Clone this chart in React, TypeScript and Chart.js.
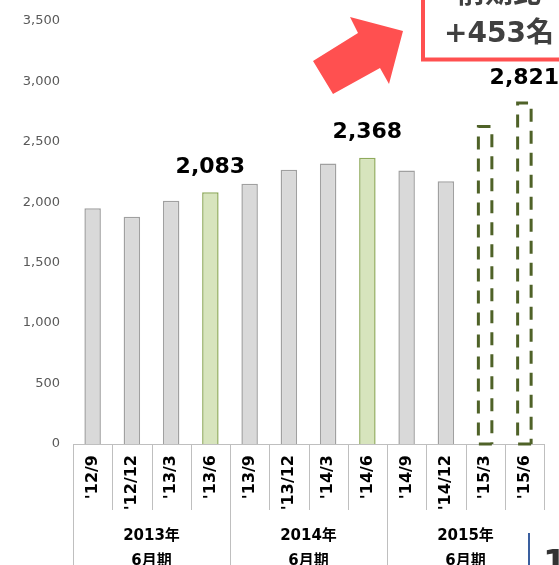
import React, { useEffect, useRef } from "react";
import { Chart, registerables } from "chart.js";

Chart.register(...registerables);

const categories = ["'12/9", "'12/12", "'13/3", "'13/6", "'13/9", "'13/12", "'14/3", "'14/6", "'14/9", "'14/12", "'15/3", "'15/6"];
const values = [1950, 1880, 2012, 2083, 2152, 2268, 2320, 2368, 2262, 2172, 2625, 2821];
const highlightIdx = [3, 7];
const forecastIdx = [10, 11];
const labelIdx = [3, 7, 11];
const yTicks = [0, 500, 1000, 1500, 2000, 2500, 3000, 3500];
const groupYears = ["2013年", "2014年", "2015年"];
const groupSub = "6月期";
const groupSize = 4;
const calloutTitle = "前期比";
const calloutValue = "+453名";

const FONT = "'DejaVu Sans', 'Noto Sans CJK JP', sans-serif";
const RED = "#FF5050";

const overlay = {
  id: "overlay",
  afterDatasetsDraw(chart: any) {
    const ctx = chart.ctx;
    const meta = chart.getDatasetMeta(0);
    ctx.save();
    forecastIdx.forEach((i) => {
      const el = meta.data[i];
      const p = el.getProps(["x", "y", "base", "width"], true);
      const l = p.x - p.width / 2 + 1.5;
      const r = p.x + p.width / 2 - 1.5;
      ctx.beginPath();
      ctx.setLineDash([13, 9]);
      ctx.lineDashOffset = 0;
      ctx.strokeStyle = "#4F6228";
      ctx.lineWidth = 3;
      ctx.moveTo(r, p.base);
      ctx.lineTo(l, p.base);
      ctx.lineTo(l, p.y);
      ctx.lineTo(r, p.y);
      ctx.lineTo(r, p.base);
      ctx.stroke();
    });
    ctx.restore();
  },
  afterDraw(chart: any) {
    const ctx = chart.ctx;
    const xs = chart.scales.x;
    const area = chart.chartArea;
    const meta = chart.getDatasetMeta(0);
    ctx.save();
    ctx.strokeStyle = "#BFBFBF";
    ctx.lineWidth = 1;
    for (let k = 0; k <= categories.length; k++) {
      const px = Math.round(xs.getPixelForValue(k - 0.5)) + 0.5;
      const long = k % groupSize === 0 && k < categories.length;
      ctx.beginPath();
      ctx.moveTo(px, area.bottom);
      ctx.lineTo(px, long ? chart.height : area.bottom + 66);
      ctx.stroke();
    }
    ctx.fillStyle = "#000";
    ctx.font = `bold 15px ${FONT}`;
    ctx.textAlign = "center";
    ctx.textBaseline = "middle";
    groupYears.forEach((g, j) => {
      const a = xs.getPixelForValue(j * groupSize - 0.5);
      const b = xs.getPixelForValue((j + 1) * groupSize - 0.5);
      const cx = (a + b) / 2;
      ctx.fillText(g, cx, area.bottom + 92);
      ctx.fillText(groupSub, cx, area.bottom + 117);
    });
    ctx.font = `bold 22px ${FONT}`;
    labelIdx.forEach((i) => {
      const el = meta.data[i];
      ctx.fillText(values[i].toLocaleString("en-US"), el.x, el.y - 25);
    });
    ctx.fillStyle = RED;
    ctx.beginPath();
    const pts = [[313, 61], [358, 33], [350, 17], [403, 31], [389, 84], [380, 68], [333, 94]];
    pts.forEach(([x, y], n) => (n ? ctx.lineTo(x, y) : ctx.moveTo(x, y)));
    ctx.closePath();
    ctx.fill();
    ctx.fillStyle = "#fff";
    ctx.fillRect(423, -20, 200, 80);
    ctx.strokeStyle = RED;
    ctx.lineWidth = 4;
    ctx.strokeRect(423, -20, 200, 79.5);
    ctx.fillStyle = "#404040";
    ctx.font = `bold 28px ${FONT}`;
    ctx.textBaseline = "alphabetic";
    ctx.fillText(calloutTitle, 499, 3);
    ctx.textBaseline = "middle";
    ctx.fillText(calloutValue, 499, 35);
    ctx.strokeStyle = "#3A5F9F";
    ctx.lineWidth = 2;
    ctx.beginPath();
    ctx.moveTo(529, 533);
    ctx.lineTo(529, chart.height);
    ctx.stroke();
    ctx.fillStyle = "#333";
    ctx.font = `bold 34px ${FONT}`;
    ctx.textAlign = "left";
    ctx.textBaseline = "alphabetic";
    ctx.fillText("1", 543, 574);
    ctx.restore();
  },
};

export default function App() {
  const ref = useRef<HTMLCanvasElement>(null);
  useEffect(() => {
    const bg = values.map((_, i) =>
      forecastIdx.includes(i) ? "rgba(0,0,0,0)" : highlightIdx.includes(i) ? "#D7E4BD" : "#D9D9D9"
    );
    const bc = values.map((_, i) =>
      forecastIdx.includes(i) ? "rgba(0,0,0,0)" : highlightIdx.includes(i) ? "#8FAA5C" : "#A0A0A0"
    );
    const chart = new Chart(ref.current!, {
      type: "bar",
      data: {
        labels: categories,
        datasets: [
          {
            data: values,
            backgroundColor: bg,
            borderColor: bc,
            borderWidth: 1.5,
            barPercentage: 0.42,
            categoryPercentage: 1,
          },
        ],
      },
      options: {
        animation: false,
        responsive: true,
        maintainAspectRatio: false,
        layout: { padding: { left: 15, right: 15, top: 15, bottom: 53 } },
        plugins: { legend: { display: false }, tooltip: { enabled: false } },
        scales: {
          x: {
            grid: { display: false, drawTicks: false },
            border: { display: true, color: "#BFBFBF", width: 1 },
            ticks: {
              maxRotation: 90,
              minRotation: 90,
              autoSkip: false,
              padding: 11,
              color: "#000",
              font: { family: FONT, size: 16, weight: "bold" },
            },
            afterFit: (s: any) => {
              s.height = 68;
            },
          },
          y: {
            min: 0,
            max: 3500,
            grid: { display: false, drawTicks: false },
            border: { display: false },
            afterBuildTicks: (s: any) => {
              s.ticks = yTicks.map((v) => ({ value: v }));
            },
            ticks: {
              padding: 13,
              color: "#595959",
              font: { family: FONT, size: 13 },
              callback: (v: any) => Number(v).toLocaleString("en-US"),
            },
            afterFit: (s: any) => {
              s.width = 58;
            },
          },
        },
      },
      plugins: [overlay],
    });
    return () => chart.destroy();
  }, []);
  return (
    <div style={{ position: "fixed", left: 0, top: 0, width: 559, height: 565, background: "#fff" }}>
      <canvas ref={ref} />
    </div>
  );
}
